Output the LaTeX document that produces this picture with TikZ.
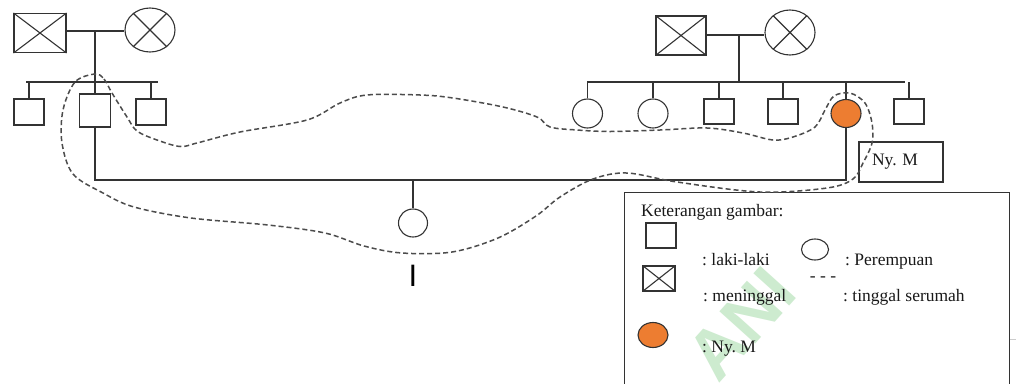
\documentclass[tikz,border=0pt]{standalone}
\usepackage{fontspec}
\setmainfont{Liberation Serif}
\newfontfamily\isans{Liberation Sans}
\usetikzlibrary{shapes.geometric}
\definecolor{ln}{HTML}{333333}
\definecolor{orng}{HTML}{ED7D31}
\definecolor{wm}{HTML}{CDEBCF}
\frenchspacing
\begin{document}
\begin{tikzpicture}[x=1pt,y=-1pt,
  every node/.style={font=\fontsize{17.5}{20}\selectfont, text=black!90},
  lnk/.style={draw=ln, line width=1.1pt},
  male/.style={draw=ln, line width=1.1pt, rectangle, inner sep=0pt, minimum width=30pt, minimum height=26pt},
  fem/.style={draw=ln, line width=1.1pt, ellipse, inner sep=0pt, minimum width=30pt, minimum height=29pt},
  orfem/.style={fem, fill=orng},
  lbl/.style={anchor=base west, inner sep=0pt},
  loopline/.style={draw=black!70, line width=1.5pt, dash pattern=on 5pt off 3pt}]
\useasboundingbox (0,0) rectangle (1016,383);
\clip (0,0) rectangle (1016,383);
\fill[white] (0,0) rectangle (1016,383);
% watermark
\node[font=\isans\bfseries\fontsize{70}{70}\selectfont, text=wm, rotate=48, inner sep=0pt] (wmk) at (741,324) {ANI};
% left grandparents
\node[male, minimum width=52pt, minimum height=39pt] (gf1) at (40,33) {};
\draw[lnk] (gf1.north west) -- (gf1.south east) (gf1.north east) -- (gf1.south west);
\node[fem, minimum width=50pt, minimum height=44pt] (gm1) at (150,30) {};
\draw[lnk] (gm1.45) -- (gm1.225) (gm1.135) -- (gm1.-45);
\coordinate (m1) at (95,31);
\draw[lnk] (gf1.east |- m1) -- (gm1.west |- m1);
\coordinate (s1a) at (26,82);
\coordinate (s1b) at (158,82);
\draw[lnk] (s1a) -- (s1b);
\node[male] (c1) at (29,112) {};
\node[male, minimum width=31pt, minimum height=33pt] (h) at (95,110.5) {};
\node[male] (c3) at (151,112) {};
\draw[lnk] (m1) -- (h.north);
\draw[lnk] (c1.north |- s1a) -- (c1.north);
\draw[lnk] (c3.north |- s1a) -- (c3.north);
% right grandparents
\node[male, minimum width=50pt, minimum height=39pt] (gf2) at (681,35.5) {};
\draw[lnk] (gf2.north west) -- (gf2.south east) (gf2.north east) -- (gf2.south west);
\node[fem, minimum width=50pt, minimum height=45pt] (gm2) at (790,32.5) {};
\draw[lnk] (gm2.45) -- (gm2.225) (gm2.135) -- (gm2.-45);
\coordinate (m2) at (739,35);
\draw[lnk] (gf2.east |- m2) -- (gm2.west |- m2);
\coordinate (s2a) at (587,82);
\coordinate (s2b) at (905,82);
\draw[lnk] (s2a) -- (s2b);
\draw[lnk] (m2) -- (m2 |- s2a);
\node[fem] (r1) at (587.5,113.5) {};
\node[fem] (r2) at (653,113.5) {};
\node[male, minimum height=25pt] (r3) at (719,111.5) {};
\node[male, minimum height=25pt] (r4) at (783,111.5) {};
\node[orfem, minimum height=28pt] (w) at (846,113.5) {};
\node[male, minimum height=25pt] (r6) at (909,111.5) {};
\foreach \n in {r1,r2,r3,r4,w,r6} {\draw[lnk] (\n.north |- s2a) -- (\n.north);}
% marriage of h and w
\coordinate (j2) at (846,180);
\draw[lnk] (h.south) -- (h.south |- j2) -- (j2) -- (w.south);
\node[fem, minimum width=29pt, minimum height=28pt] (d) at (413,223) {};
\draw[lnk] (d.north |- j2) -- (d.north);
\node[font=\isans\fontsize{31}{31}\selectfont, text=black, inner sep=0pt] (cur) at (413,276) {I};
% Ny. M box
\node[draw=ln, line width=1.1pt, align=left, text width=58pt, inner xsep=13pt, minimum height=40pt] (nym) at (901,162) {Ny. M};
% legend
\node[draw=ln, line width=1.1pt, fill=none, anchor=north west, minimum width=385pt, minimum height=210pt] (leg) at (624,192) {};
\node[lbl] (lt) at (641,216) {Keterangan gambar:};
\node[male, minimum height=25pt] (lsq) at (661,235.5) {};
\node[lbl] (lt1) at (702,265) {: laki-laki};
\node[male, minimum width=32pt, minimum height=25pt] (lx) at (659,278.5) {};
\draw[lnk] (lx.north west) -- (lx.south east) (lx.north east) -- (lx.south west);
\node[lbl] (lt2) at (703,301) {: meninggal};
\node[fem, minimum width=27pt, minimum height=21pt] (lci) at (815,249.5) {};
\node[lbl] (lt3) at (845,265) {: Perempuan};
\node[inner sep=0pt] (ldash) at (823,279) {- - -};
\node[lbl] (lt4) at (843,301) {: tinggal serumah};
\node[orfem, minimum width=30pt, minimum height=25pt] (lor) at (653,335) {};
\node[lbl] (lt5) at (702,352) {: Ny. M};
\draw[black!20, line width=0.8pt] (leg.east |- 0,339) -- (1016,339);
% living together loop
\draw[loopline] plot[smooth cycle, tension=0.55] coordinates {
 (95,74) (104,79) (112,93) (127,117) (137,131) (157,140) (180,146.5) (197,143)
 (240,132) (307,120) (340,103) (367,95) (420,95) (453,98) (503,107) (537,117)
 (550,127) (577,130) (610,131.5) (660,130) (707,128) (743,133) (773,140) (793,137)
 (815,127) (825,110) (834,96) (850,93) (865,103) (872,123) (872,143) (863,163)
 (853,179) (827,188) (760,192) (677,182) (627,173) (593,179) (560,197) (536,216)
 (498,238) (452,252) (402,253) (364,246) (325,233) (268,225) (191,218) (134,207)
 (103,193) (73,174) (62,143) (63,110) (75,82)};
\end{tikzpicture}
\end{document}
